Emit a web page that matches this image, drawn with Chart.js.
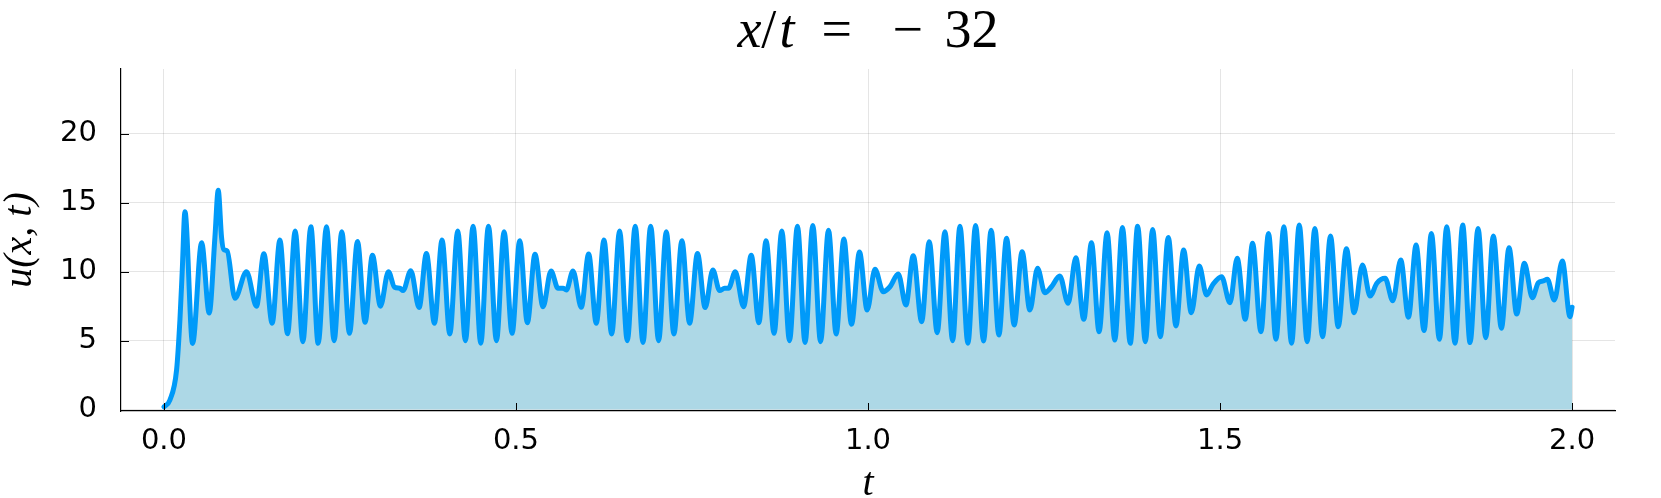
<!DOCTYPE html>
<html lang="en">
<head>
  <meta charset="UTF-8">
  <title>x/t = -32</title>
  <script src="https://cdn.jsdelivr.net/npm/chart.js"></script>
  <style>
    body { margin: 0; background: #fff; }
    #wrap { width: 1661px; height: 498px; }
  </style>
</head>
<body>
<div id="wrap"><canvas id="uChart"></canvas></div>
<script>
const tVals = [
  0, 0.0085, 0.018, 0.0227, 0.026, 0.0298, 0.0407, 0.0535, 0.0643, 0.0724,
  0.0771, 0.0818, 0.085, 0.0899, 0.1008, 0.1173, 0.1315, 0.1419, 0.1537, 0.1647,
  0.1755, 0.1864, 0.1973, 0.2087, 0.219, 0.2309, 0.2417, 0.2526, 0.2635, 0.2749,
  0.2857, 0.2961, 0.3075, 0.3188, 0.3276, 0.335, 0.3397, 0.3506, 0.3624, 0.3728,
  0.3842, 0.395, 0.406, 0.4173, 0.4282, 0.4391, 0.45, 0.4609, 0.4723, 0.4831,
  0.4945, 0.5053, 0.5162, 0.527, 0.5384, 0.5498, 0.5597, 0.5668, 0.5716, 0.581,
  0.5928, 0.6032, 0.6141, 0.625, 0.6359, 0.6472, 0.6581, 0.6694, 0.6804, 0.6913,
  0.7026, 0.7135, 0.7243, 0.7357, 0.7466, 0.7578, 0.7687, 0.7796, 0.7892, 0.7963,
  0.802, 0.8115, 0.8233, 0.8342, 0.845, 0.8552, 0.8666, 0.8776, 0.8885, 0.8998,
  0.9106, 0.9216, 0.9326, 0.9439, 0.9548, 0.9657, 0.9766, 0.9879, 0.9988, 1.0099,
  1.0217, 1.0312, 1.043, 1.0539, 1.0643, 1.0762, 1.087, 1.0983, 1.1093, 1.1202,
  1.1306, 1.1419, 1.1528, 1.1641, 1.1749, 1.1859, 1.1968, 1.2076, 1.2189, 1.2299,
  1.2408, 1.2512, 1.2606, 1.2724, 1.2843, 1.2952, 1.3065, 1.3174, 1.3282, 1.3396,
  1.3505, 1.3614, 1.3725, 1.383, 1.3939, 1.4043, 1.4152, 1.4265, 1.4374, 1.4483,
  1.4592, 1.4705, 1.4809, 1.4894, 1.5022, 1.5141, 1.5244, 1.5358, 1.5462, 1.5581,
  1.5689, 1.5794, 1.5907, 1.6016, 1.6125, 1.6238, 1.6347, 1.6456, 1.6569, 1.6678,
  1.6796, 1.6905, 1.7023, 1.7132, 1.7227, 1.7345, 1.7454, 1.7567, 1.7676, 1.7785,
  1.7898, 1.8002, 1.8116, 1.822, 1.8338, 1.8447, 1.8551, 1.8665, 1.8774, 1.8882,
  1.8996, 1.9105, 1.9214, 1.9323, 1.9436, 1.9521, 1.9592, 1.9649, 1.9748, 1.9862,
  1.9971, 2.0
];
const uVals = [
  0.2, 0.7, 2.9, 6.5, 10.1, 14.35, 4.8, 12.1, 7.0, 12.5,
  15.9, 12.5, 11.6, 11.5, 8.07, 10.0, 7.5, 11.3, 6.26, 12.3,
  5.5, 12.95, 4.93, 13.26, 4.81, 13.26, 5.0, 12.9, 5.53, 12.2,
  6.33, 11.2, 7.5, 10.0, 8.87, 8.8, 8.63, 10.07, 7.4, 11.33,
  6.26, 12.3, 5.49, 12.95, 5.0, 13.3, 4.81, 13.3, 5.0, 12.9,
  5.53, 12.25, 6.3, 11.26, 7.46, 10.05, 8.8, 8.8, 8.67, 10.05,
  7.42, 11.28, 6.26, 12.3, 5.49, 12.95, 5.0, 13.3, 4.86, 13.3,
  5.0, 12.9, 5.49, 12.25, 6.26, 11.33, 7.4, 10.12, 8.63, 8.8,
  8.8, 10.0, 7.46, 11.2, 6.3, 12.25, 5.53, 12.95, 5.0, 13.3,
  4.86, 13.36, 4.93, 13.0, 5.49, 12.37, 6.19, 11.43, 7.22, 10.17,
  8.55, 8.91, 9.83, 7.59, 11.16, 6.38, 12.17, 5.58, 12.9, 5.0,
  13.3, 4.81, 13.36, 4.98, 13.0, 5.41, 12.42, 6.14, 11.45, 7.22,
  10.25, 8.48, 8.91, 9.69, 7.71, 11.01, 6.55, 12.1, 5.65, 12.83,
  5.05, 13.2, 4.81, 13.3, 4.93, 13.07, 5.29, 12.49, 6.07, 11.57,
  7.03, 10.41, 8.31, 9.04, 9.64, 7.75, 10.97, 6.55, 12.06, 5.65,
  12.78, 5.1, 13.26, 4.81, 13.38, 4.93, 13.14, 5.29, 12.59, 6.01,
  11.67, 7.03, 10.49, 8.24, 9.16, 9.52, 7.9, 10.85, 6.7, 11.93,
  5.73, 12.78, 5.1, 13.26, 4.81, 13.38, 4.86, 13.14, 5.22, 12.59,
  5.9, 11.74, 6.93, 10.61, 8.12, 9.2, 9.33, 9.45, 7.95, 10.78,
  6.74, 7.42
];
const xTicks = [0.0, 0.5, 1.0, 1.5, 2.0];
const yTicks = [0, 5, 10, 15, 20];

const tickFont = { family: 'DejaVu Sans', size: 29 };
const mathFont = 'Liberation Serif';

// title with italic variables, LaTeX-ish spacing (gaps in em)
const titleParts = [
  { s: 'x', it: true, gap: 0 },
  { s: '/', it: false, gap: 0.0 },
  { s: 't', it: true, gap: 0.06 },
  { s: '=', it: false, gap: 0.5 },
  { s: '\u2212', it: false, gap: 0.75 },
  { s: '32', it: false, gap: 0.4 }
];

const mathTitle = {
  id: 'mathTitle',
  afterDraw(chart) {
    const ctx = chart.ctx, size = 54;
    const area = chart.chartArea;
    ctx.save();
    ctx.fillStyle = '#000';
    ctx.textBaseline = 'alphabetic';
    let total = 0;
    const widths = titleParts.map(p => {
      ctx.font = (p.it ? 'italic ' : '') + size + 'px "' + mathFont + '"';
      const w = ctx.measureText(p.s).width;
      total += w + p.gap * size;
      return w;
    });
    let x = (area.left + area.right) / 2 - total / 2;
    titleParts.forEach((p, i) => {
      x += p.gap * size;
      ctx.font = (p.it ? 'italic ' : '') + size + 'px "' + mathFont + '"';
      ctx.fillText(p.s, x, 47);
      x += widths[i];
    });
    ctx.restore();
  }
};

// Plots.jl style ticks pointing into the plot area
const innerTicks = {
  id: 'innerTicks',
  afterDatasetsDraw(chart) {
    const ctx = chart.ctx, xs = chart.scales.x, ys = chart.scales.y;
    const a = chart.chartArea;
    ctx.save();
    ctx.strokeStyle = '#000';
    ctx.lineWidth = 1;
    ctx.beginPath();
    xTicks.forEach(v => {
      const px = Math.round(xs.getPixelForValue(v)) + 0.5;
      ctx.moveTo(px, a.bottom);
      ctx.lineTo(px, a.bottom - 8);
    });
    yTicks.forEach(v => {
      const py = Math.round(ys.getPixelForValue(v)) + 0.5;
      ctx.moveTo(a.left, py);
      ctx.lineTo(a.left + 8, py);
    });
    ctx.stroke();
    ctx.restore();
  }
};

const points = tVals.map((t, i) => ({ x: t, y: uVals[i] }));

new Chart(document.getElementById('uChart').getContext('2d'), {
  type: 'line',
  data: {
    datasets: [{
      data: points,
      borderColor: '#009af9',
      backgroundColor: '#add8e6',
      borderWidth: 5,
      borderJoinStyle: 'round',
      borderCapStyle: 'round',
      fill: 'origin',
      pointRadius: 0,
      cubicInterpolationMode: 'monotone'
    }]
  },
  plugins: [mathTitle, innerTicks],
  options: {
    responsive: true,
    maintainAspectRatio: false,
    animation: false,
    layout: { padding: { top: 69, right: 46, left: 0, bottom: 0 } },
    plugins: {
      legend: { display: false },
      tooltip: { enabled: false }
    },
    scales: {
      x: {
        type: 'linear',
        min: -0.061,
        max: 2.061,
        afterBuildTicks: s => { s.ticks = xTicks.map(v => ({ value: v })); },
        afterFit: s => { s.height = 87; },
        ticks: {
          font: tickFont,
          color: '#000',
          padding: 13,
          maxRotation: 0,
          autoSkip: false,
          callback: v => v.toFixed(1)
        },
        grid: { color: 'rgba(0,0,0,0.1)', lineWidth: 1, drawTicks: false },
        border: { color: '#000', width: 1.2 },
        title: {
          display: true,
          text: 't',
          color: '#000',
          font: { family: mathFont, style: 'italic', size: 40, lineHeight: 0.7 },
          padding: 0
        }
      },
      y: {
        type: 'linear',
        min: -0.1,
        max: 24.7,
        afterBuildTicks: s => { s.ticks = yTicks.map(v => ({ value: v })); },
        afterFit: s => { s.width = 121; },
        ticks: {
          font: tickFont,
          color: '#000',
          padding: 24,
          autoSkip: false
        },
        grid: { color: 'rgba(0,0,0,0.1)', lineWidth: 1, drawTicks: false },
        border: { color: '#000', width: 1.2 },
        title: {
          display: true,
          text: 'u(x, t)',
          color: '#000',
          font: { family: mathFont, style: 'italic', size: 40, lineHeight: 1.0 },
          padding: 0
        }
      }
    }
  }
});
</script>
</body>
</html>
